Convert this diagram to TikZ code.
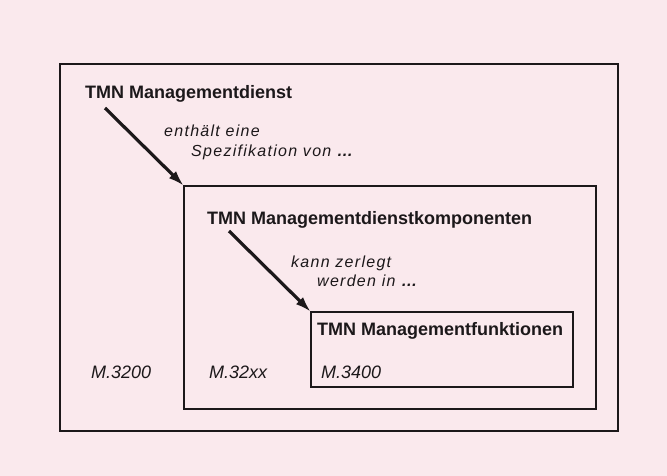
\documentclass[tikz,border=0pt]{standalone}
\usepackage{fontspec}
\setmainfont{Liberation Sans}
\newfontfamily\notefont[LetterSpace=8]{Liberation Sans Italic}
\usetikzlibrary{arrows.meta}

\definecolor{bgpink}{RGB}{250,233,237}
\definecolor{ink}{RGB}{28,24,26}

\newcommand{\dotsbold}{{\bfseries …}}

\tikzset{
  box/.style={draw=ink, outer sep=0pt, inner sep=0pt, anchor=north west},
  title/.style={anchor=base west, inner sep=0pt, font=\fontsize{18}{20}\selectfont\bfseries},
  recno/.style={anchor=base west, inner sep=0pt, font=\fontsize{18}{20}\selectfont\itshape},
  note/.style={anchor=base west, inner sep=0pt, font=\fontsize{16}{18}\notefont},
  flow/.style={draw=ink, line width=3.2pt, -{Latex[length=16pt,width=10pt]}}
}

\begin{document}
\begin{tikzpicture}[x=1pt,y=-1pt,text=ink]

% page and its tint
\fill[bgpink] (0,0) rectangle (667,476);
\useasboundingbox (0,0) rectangle (667,476);

% the three nested frames
\node[box, line width=2.4pt, minimum width=558pt, minimum height=367pt] (dienst) at (60,64) {};
\node[box, line width=2pt, minimum width=412pt, minimum height=223pt] (komp) at (184,186) {};
\node[box, line width=1.5pt, minimum width=262pt, minimum height=75pt] (funkt) at (311,312) {};

% headings
\node[title] (tdienst) at (85,99) {TMN Managementdienst};
\node[title] (tkomp) at (207,224) {TMN Managementdienstkomponenten};
\node[title] (tfunkt) at (317,335) {TMN Managementfunktionen};

% recommendation numbers
\node[recno] (m3200) at (91,378) {M.3200};
\node[recno] (m32xx) at (209,378) {M.32xx};
\node[recno] (m3400) at (321,378) {M.3400};

% arrows into the corners
\coordinate (s1) at (105,108);
\coordinate (s2) at (229,231);
\draw[flow] (s1) -- (komp.north west);
\draw[flow] (s2) -- (funkt.north west);

\node[note] (n1a) at (164,137) {enthält eine};
\node[note] (n1b) at (191,157) {Spezifikation von \dotsbold};
\node[note] (n2a) at (291,267) {kann zerlegt};
\node[note] (n2b) at (317,286) {werden in \dotsbold};

\end{tikzpicture}
\end{document}
